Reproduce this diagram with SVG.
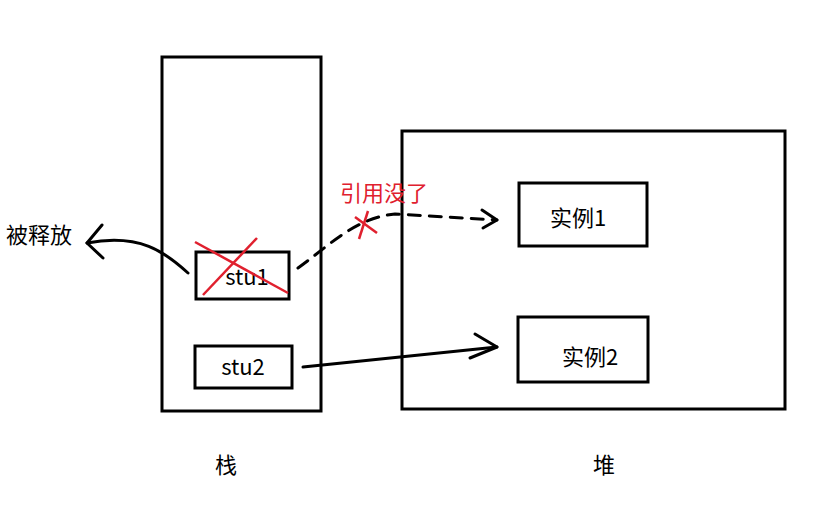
<svg xmlns="http://www.w3.org/2000/svg" width="816" height="509" viewBox="0 0 816 509">
<style>
.box{fill:none;stroke:#000;stroke-width:3}
.t{font-family:"Noto Sans CJK SC","Liberation Sans",sans-serif;font-size:22px;fill:#000}
.red{stroke:#e0202e;stroke-width:2.5;fill:none}
.ln{stroke:#000;stroke-width:3;fill:none;stroke-linecap:round;stroke-linejoin:round}
</style>
<rect width="816" height="509" fill="#fff"/>
<g id="stack"><rect class="box" x="162" y="57" width="159" height="354"/><text class="t" x="226" y="473" text-anchor="middle">栈</text></g>
<g id="heap"><rect class="box" x="402" y="131" width="383" height="278"/><text class="t" x="604" y="473" text-anchor="middle">堆</text></g>
<g id="stu1"><rect class="box" x="196" y="252" width="93" height="47"/><text class="t" x="247" y="285" text-anchor="middle">stu1</text>
<line class="red" x1="195" y1="242" x2="288" y2="293"/><line class="red" x1="257" y1="238" x2="203" y2="295"/></g>
<g id="stu2"><rect class="box" x="195" y="346" width="97" height="42"/><text class="t" x="243" y="375" text-anchor="middle">stu2</text></g>
<g id="inst1"><rect class="box" x="519" y="183" width="128" height="63"/><text class="t" x="578" y="226" text-anchor="middle">实例1</text></g>
<g id="inst2"><rect class="box" x="518" y="317" width="130" height="65"/><text class="t" x="590" y="365" text-anchor="middle">实例2</text></g>
<g id="released"><text class="t" x="6" y="243">被释放</text></g>
<g id="lost"><text class="t" x="340" y="201" style="fill:#e0202e">引用没了</text></g>
<g id="connectors">
<path class="ln" d="M188,273 C165,252 140,233 87,243"/>
<path class="ln" d="M102,225 L87,243 L103,258"/>
<path class="ln" stroke-dasharray="12,9" d="M298,268 C330,245 355,218 395,214 L497,220"/>
<path class="ln" d="M482,210 L497,220 L483,228"/>
<line class="red" x1="355" y1="217" x2="377" y2="233"/><line class="red" x1="368" y1="211" x2="359" y2="239"/>
<path class="ln" d="M303,367 L497,347"/>
<path class="ln" d="M475,334 L497,347 L470,358"/>
</g>
</svg>
